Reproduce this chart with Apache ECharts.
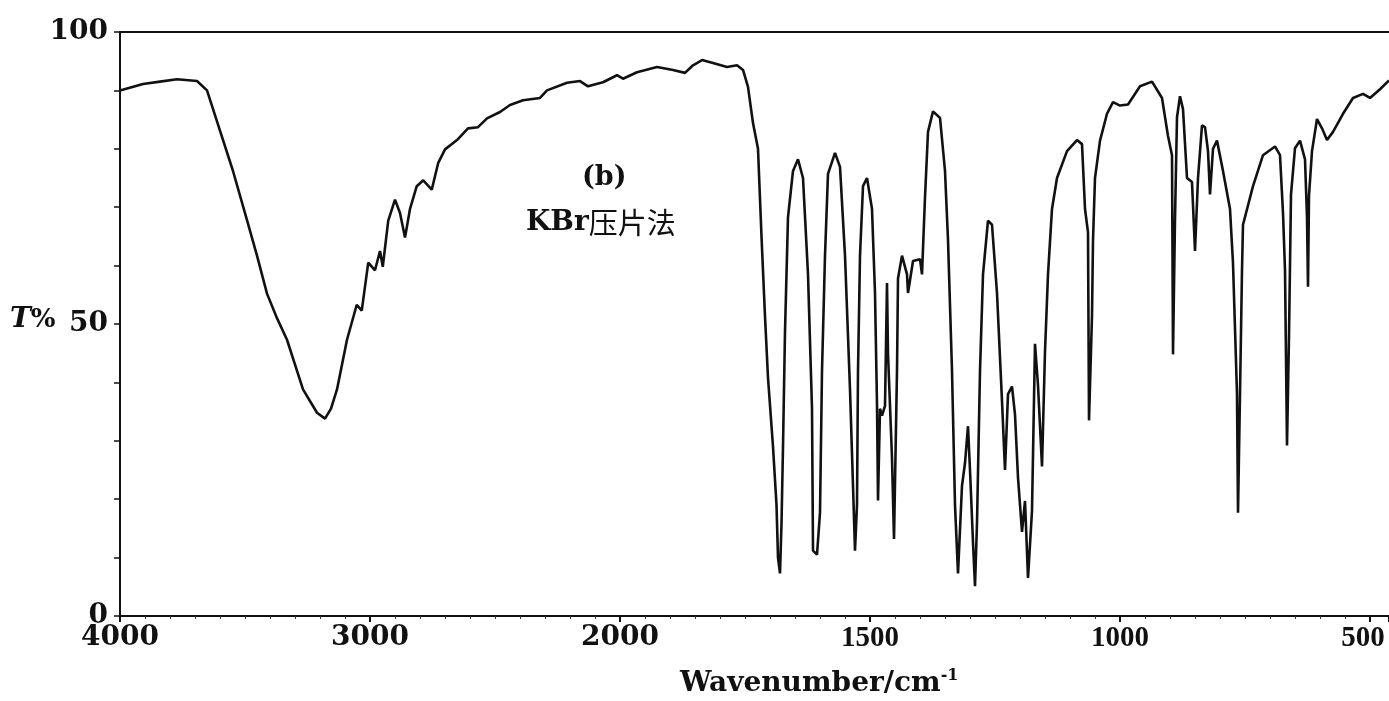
<!DOCTYPE html>
<html>
<head>
<meta charset="utf-8">
<script src="https://cdn.jsdelivr.net/npm/echarts@6/dist/echarts.min.js"></script>
<style>
html, body { margin: 0; padding: 0; background: #fff; }
#ir { width: 1389px; height: 701px; }
</style>
</head>
<body>
<div id="ir"></div>
<script>
// IR spectrum, KBr pellet
var wavenumber = [4000, 3908, 3840, 3772, 3692, 3652, 3612, 3548, 3492, 3452, 3412, 3372, 3332, 3268, 3212, 3180, 3156, 3132,
  3092, 3053, 3033, 3007, 2980, 2960, 2949, 2927, 2900, 2880, 2860, 2840, 2813, 2787, 2753, 2727, 2700, 2652, 2608, 2568,
  2532, 2480, 2440, 2388, 2320, 2292, 2212, 2160, 2128, 2068, 2012, 1994, 1966, 1926, 1894, 1870, 1854, 1836, 1814, 1786,
  1766, 1754, 1744, 1734, 1724, 1717, 1710, 1704, 1694, 1687, 1684, 1680, 1677, 1674, 1670, 1664, 1654, 1644, 1634, 1624,
  1616, 1614, 1606, 1600, 1596, 1590, 1584, 1570, 1560, 1550, 1540, 1534, 1530, 1526, 1524, 1520, 1514, 1506, 1496, 1490,
  1486, 1484, 1480, 1476, 1470, 1466, 1464, 1456, 1452, 1446, 1444, 1436, 1426, 1424, 1414, 1400, 1396, 1390, 1384, 1374,
  1360, 1350, 1344, 1336, 1330, 1324, 1316, 1310, 1304, 1300, 1294, 1290, 1286, 1280, 1274, 1264, 1256, 1246, 1236, 1230,
  1224, 1216, 1210, 1204, 1196, 1190, 1184, 1176, 1170, 1164, 1156, 1150, 1144, 1136, 1126, 1106, 1086, 1076, 1070, 1064,
  1062, 1056, 1054, 1050, 1040, 1026, 1014, 1000, 984, 960, 936, 916, 904, 896, 894, 890, 886, 880, 874, 866,
  856, 850, 844, 836, 830, 824, 820, 814, 806, 794, 780, 774, 766, 764, 760, 756, 754, 734, 714, 690,
  680, 674, 670, 666, 662, 658, 650, 640, 630, 626, 624, 622, 616, 606, 596, 586, 574, 554, 534, 514,
  500, 480, 462];
var transmittance = [90.0, 91.1, 91.5, 91.9, 91.6, 90.0, 84.7, 76.2, 67.8, 61.7, 55.2, 51.0, 47.3, 38.8, 34.8, 33.8, 35.5, 38.8,
  47.3, 53.3, 52.3, 60.5, 59.2, 62.5, 59.8, 67.7, 71.3, 69.0, 64.8, 69.7, 73.6, 74.6, 73.0, 77.6, 79.9, 81.5, 83.5, 83.7,
  85.2, 86.3, 87.5, 88.3, 88.7, 90.0, 91.3, 91.6, 90.7, 91.4, 92.6, 92.0, 93.1, 94.0, 93.5, 93.0, 94.3, 95.2, 94.7, 94.0,
  94.3, 93.5, 90.6, 84.4, 80.0, 65.0, 51.3, 40.8, 29.0, 19.0, 10.0, 7.3, 15.8, 29.0, 48.7, 68.3, 76.2, 78.2, 75.0, 58.5,
  35.5, 11.2, 10.5, 17.7, 42.0, 61.7, 75.7, 79.3, 76.9, 61.7, 38.8, 22.3, 11.2, 19.1, 42.0, 61.7, 73.6, 75.0, 69.7, 55.3,
  36.2, 19.8, 35.5, 34.3, 36.0, 57.0, 45.0, 27.0, 13.2, 42.0, 57.8, 61.7, 58.5, 55.3, 60.8, 61.1, 58.5, 71.7, 82.9, 86.4,
  85.3, 76.2, 64.4, 42.0, 19.0, 7.3, 22.3, 26.2, 32.5, 25.0, 12.6, 5.1, 15.9, 42.0, 58.5, 67.7, 67.0, 55.3, 36.8, 25.0,
  38.0, 39.3, 34.5, 23.7, 14.4, 19.7, 6.5, 18.0, 46.6, 39.5, 25.6, 45.3, 58.5, 69.7, 75.0, 79.6, 81.5, 80.8, 69.7, 65.7,
  33.5, 51.4, 64.3, 75.0, 81.4, 86.0, 88.0, 87.4, 87.6, 90.7, 91.5, 88.7, 82.2, 78.9, 44.8, 68.0, 85.4, 89.0, 86.8, 75.0,
  74.3, 62.5, 75.0, 84.0, 83.7, 79.6, 72.2, 80.0, 81.4, 76.2, 69.7, 60.4, 38.0, 17.7, 38.0, 59.2, 67.0, 73.6, 78.9, 80.4,
  78.9, 69.0, 59.2, 29.2, 48.0, 72.2, 80.1, 81.4, 78.2, 68.3, 56.4, 72.0, 79.6, 85.1, 83.5, 81.5, 82.9, 86.0, 88.7, 89.4,
  88.7, 90.2, 91.7];
var xTickLabels = [4000, 3000, 2000, 1500, 1000, 500];
var yTickLabels = [0, 50, 100];

// the axis is compressed above 2000 cm-1 (half scale)
function toAxis(w) { return w >= 2000 ? (4000 - w) / 2 : 3000 - w; }
function fromAxis(d) { return d <= 1000 ? 4000 - 2 * d : 3000 - d; }

var seriesdata = [];
for (var i = 0; i < wavenumber.length; i++) {
  seriesdata.push([toAxis(wavenumber[i]), transmittance[i]]);
}

var dom = document.getElementById('ir');
var myChart = echarts.init(dom);
var serif = 'DejaVu Serif, Liberation Serif, serif';
var lbl = { color: '#111', fontFamily: serif, fontWeight: 'bold', fontSize: 28 };
var xRich = {
  w: { fontFamily: serif, fontWeight: 'bold', fontSize: 28, color: '#111' },
  t: { fontFamily: 'Liberation Serif, serif', fontWeight: 'bold', fontSize: 29, color: '#111' },
  e: { fontFamily: 'Liberation Serif, serif', fontWeight: 'bold', fontSize: 29, color: '#111', padding: [0, 14, 0, 0] }
};

var option = {
  backgroundColor: '#fff',
  animation: false,
  grid: { left: 120, top: 32, width: 1269, height: 584, outerBoundsMode: 'none', containLabel: false },
  xAxis: [{
    type: 'value', min: 0, max: toAxis(462), interval: 500,
    axisLine: { show: true, lineStyle: { color: '#111', width: 2 } },
    axisTick: { show: true, length: 6, lineStyle: { color: '#111', width: 2 } },
    minorTick: { show: true, splitNumber: 10, length: 3, lineStyle: { color: '#333' } },
    splitLine: { show: false },
    axisLabel: {
      showMaxLabel: false, margin: 8, hideOverlap: false, rich: xRich,
      formatter: function (v) {
        var w = fromAxis(v);
        if (xTickLabels.indexOf(w) < 0) return '';
        var k = w >= 2000 ? 'w' : (w === 500 ? 'e' : 't');
        return '{' + k + '|' + w + '}';
      }
    }
  }, {
    type: 'value', position: 'top', min: 0, max: toAxis(462),
    axisLine: { show: true, lineStyle: { color: '#111', width: 2 } },
    axisTick: { show: false }, axisLabel: { show: false }, splitLine: { show: false }
  }],
  yAxis: {
    type: 'value', min: 0, max: 100, interval: 10,
    axisLine: { show: true, lineStyle: { color: '#111', width: 2 } },
    axisTick: { show: true, length: 6, lineStyle: { color: '#111', width: 1.5 } },
    splitLine: { show: false },
    axisLabel: Object.assign({
      margin: 12,
      formatter: function (v) { return yTickLabels.indexOf(v) >= 0 ? String(v) : ''; }
    }, lbl)
  },
  graphic: [
    {
      type: 'text', left: 10, top: 306,
      style: {
        text: '{i|T}{p|%}',
        rich: {
          i: { fontFamily: serif, fontStyle: 'italic', fontWeight: 'bold', fontSize: 28, fill: '#111' },
          p: { fontFamily: serif, fontWeight: 'bold', fontSize: 26, fill: '#111' }
        }
      }
    },
    {
      type: 'text', left: 680, top: 668,
      style: {
        text: '{b|Wavenumber/cm}{s|-1}',
        rich: {
          b: { fontFamily: serif, fontWeight: 'bold', fontSize: 28, fill: '#111', lineHeight: 32 },
          s: { fontFamily: serif, fontWeight: 'bold', fontSize: 16, fill: '#111', verticalAlign: 'top', lineHeight: 32 }
        }
      }
    },
    {
      type: 'text', left: 582, top: 164,
      style: { text: '(b)', fontFamily: serif, fontWeight: 'bold', fontSize: 27, fill: '#111' }
    },
    {
      type: 'text', left: 526, top: 208,
      style: {
        text: '{k|KBr}{c|压片法}',
        rich: {
          k: { fontFamily: serif, fontWeight: 'bold', fontSize: 28, fill: '#111' },
          c: { fontFamily: 'Noto Sans CJK SC', fontSize: 29, fill: '#111' }
        }
      }
    }
  ],
  series: [{
    name: 'T%',
    type: 'line',
    showSymbol: false,
    data: seriesdata,
    lineStyle: { color: '#111', width: 2.6 },
    z: 3
  }]
};

myChart.setOption(option, true);
</script>
</body>
</html>
